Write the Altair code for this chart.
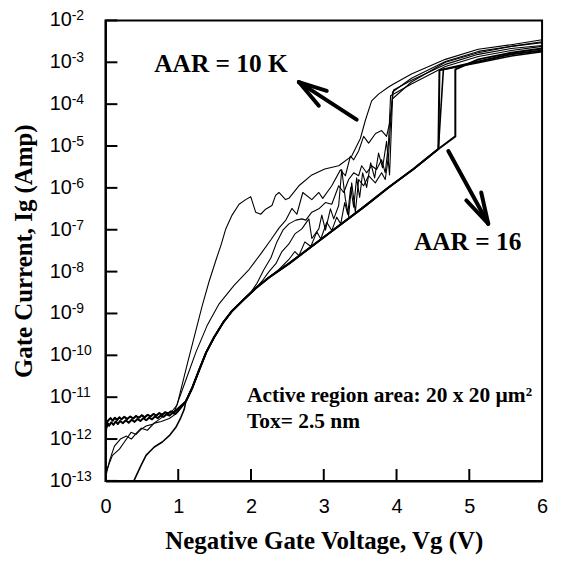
import altair as alt
import pandas as pd

# ---- values (V in volts, log10 of gate current in A) ----
decades = [-13, -12, -11, -10, -9, -8, -7, -6, -5, -4, -3, -2]
x_ticks = [1, 2, 3, 4, 5]
x_labels = [0, 1, 2, 3, 4, 5, 6]

# noisy low-voltage band, curve 1
band1_V = [0, 0.01, 0.03, 0.05, 0.08, 0.11, 0.14, 0.17, 0.20, 0.24, 0.28, 0.32, 0.36, 0.40, 0.44,
           0.48, 0.52, 0.56, 0.60, 0.64, 0.68, 0.72, 0.76, 0.80, 0.84, 0.88, 0.92, 0.96, 1.0]
band1_log = [-12.02, -11.75, -11.62, -11.68, -11.60, -11.66, -11.58, -11.64, -11.57, -11.62, -11.55,
             -11.61, -11.54, -11.59, -11.52, -11.57, -11.50, -11.55, -11.49, -11.53, -11.46, -11.50,
             -11.44, -11.47, -11.41, -11.44, -11.38, -11.40, -11.33]
# noisy low-voltage band, curve 2
band2_V = [0, 0.02, 0.04, 0.07, 0.10, 0.13, 0.16, 0.19, 0.22, 0.26, 0.30, 0.34, 0.38, 0.42, 0.46,
           0.50, 0.54, 0.58, 0.62, 0.66, 0.70, 0.74, 0.78, 0.82, 0.86, 0.90, 0.94]
band2_log = [-11.85, -11.60, -11.55, -11.50, -11.56, -11.49, -11.55, -11.48, -11.53, -11.47, -11.52,
             -11.46, -11.51, -11.45, -11.49, -11.43, -11.48, -11.42, -11.46, -11.40, -11.44, -11.38,
             -11.42, -11.36, -11.39, -11.34, -11.36]
# lowest curve, entering from below 1e-13
low1_V = [0.37, 0.39, 0.489, 0.558, 0.603, 0.671, 0.781, 0.877, 0.968, 1.037, 1.082]
low1_log = [-13.10, -13.0, -12.63, -12.39, -12.31, -12.19, -12.07, -11.92, -11.72, -11.48, -11.29]
# zig-zag low curve
low2_V = [0.014, 0.096, 0.192, 0.260, 0.352, 0.421, 0.489, 0.558, 0.644, 0.740, 0.832, 0.918, 0.986]
low2_log = [-12.75, -12.39, -12.24, -12.07, -11.84, -11.89, -11.77, -11.69, -11.65, -11.53, -11.41,
            -11.33, -11.18]
# another low curve
low3_V = [0.014, 0.055, 0.123, 0.205, 0.288, 0.356, 0.425, 0.493, 0.575, 0.671, 0.767, 0.877, 0.959]
low3_log = [-12.82, -12.52, -12.17, -12.0, -11.93, -12.0, -11.86, -11.74, -11.79, -11.62, -11.58,
            -11.51, -11.41]

# common thick trajectory (AAR = 16 envelope)
env_V = [1.105, 1.192, 1.288, 1.384, 1.493, 1.616, 1.740, 1.904, 2.064, 2.247, 2.521, 2.863, 3.205,
         3.548, 3.890, 4.233, 4.575]
env_log = [-11.10, -10.78, -10.35, -9.93, -9.57, -9.22, -8.94, -8.66, -8.40, -8.14, -7.81, -7.36,
           -6.91, -6.46, -5.99, -5.55, -5.07]

# breakdown tails of the AAR = 16 devices
s16a_V = [4.590, 5.123, 5.575, 6.0]
s16a_log = [-3.19, -2.98, -2.81, -2.72]
s16b_V = [4.808, 4.808, 5.123, 5.575, 6.0]
s16b_log = [-4.77, -3.17, -2.93, -2.77, -2.67]
s16c_V = [4.644, 5.123, 5.575, 6.0]
s16c_log = [-3.17, -3.01, -2.85, -2.75]

# earliest breakdown curve (peak near 2 V)
early_V = [1.037, 1.137, 1.242, 1.329, 1.425, 1.521, 1.589, 1.653, 1.740, 1.836, 1.927, 1.996, 2.064,
           2.133, 2.201, 2.288, 2.338, 2.384, 2.475, 2.521, 2.658, 2.836, 3.014, 3.205, 3.384, 3.503,
           3.571, 3.658, 3.753, 3.890, 3.959, 4.205, 4.671, 5.123, 5.575, 6.0]
early_log = [-10.82, -10.12, -9.41, -8.82, -8.23, -7.71, -7.36, -6.98, -6.65, -6.39, -6.28, -6.21,
             -6.58, -6.63, -6.51, -6.42, -6.18, -6.11, -6.28, -6.25, -5.95, -5.69, -5.55, -5.47,
             -5.24, -4.82, -4.39, -3.92, -3.76, -3.59, -3.52, -3.28, -2.93, -2.69, -2.58, -2.46]

# AAR = 10 K noisy curves
n1_V = [0.959, 1.105, 1.242, 1.397, 1.562, 1.767, 1.973, 2.137, 2.274, 2.384, 2.479, 2.562, 2.630,
        2.712, 2.836, 2.932, 2.986, 3.110, 3.229, 3.297, 3.366, 3.411, 3.479, 3.548, 3.616, 3.712,
        3.795, 3.863, 3.904, 3.959, 4.205, 4.671, 5.123, 5.575, 6.0]
n1_log = [-11.29, -10.59, -9.93, -9.29, -8.77, -8.33, -7.95, -7.57, -7.24, -6.96, -6.77, -6.49, -6.63,
          -6.11, -6.28, -6.11, -6.25, -5.95, -5.57, -5.71, -5.24, -5.33, -5.12, -4.77, -4.93, -4.70,
          -4.63, -4.77, -4.46, -3.66, -3.43, -3.05, -2.81, -2.67, -2.60]
n2_V = [2.0, 2.082, 2.178, 2.274, 2.356, 2.438, 2.521, 2.616, 2.699, 2.753, 2.836, 2.932, 3.023, 3.110,
        3.205, 3.274, 3.342, 3.411, 3.479, 3.521, 3.589, 3.658, 3.726, 3.795, 3.845, 3.890, 3.918,
        4.205, 4.671, 5.123, 5.575, 6.0]
n2_log = [-8.49, -8.28, -7.95, -7.67, -7.29, -7.01, -6.86, -6.77, -6.74, -6.77, -6.58, -6.50, -6.35,
          -6.39, -5.95, -6.11, -5.80, -5.64, -5.71, -5.47, -5.64, -5.47, -5.56, -5.33, -5.64, -4.93,
          -3.80, -3.52, -3.10, -2.86, -2.72, -2.62]
n3_V = [2.151, 2.247, 2.342, 2.425, 2.521, 2.603, 2.699, 2.795, 2.836, 2.932, 2.973, 3.023, 3.092,
        3.137, 3.205, 3.247, 3.297, 3.342, 3.384, 3.434, 3.479, 3.548, 3.616, 3.708, 3.795, 3.845,
        3.890, 3.945, 4.205, 4.671, 5.123, 5.575, 6.0]
n3_log = [-8.23, -8.00, -7.81, -7.52, -7.34, -7.10, -6.98, -6.74, -7.21, -6.98, -6.65, -7.01, -6.50,
          -6.74, -6.42, -5.56, -6.27, -6.68, -5.88, -6.58, -5.80, -5.95, -5.71, -5.88, -5.64, -5.80,
          -5.24, -3.71, -3.38, -2.98, -2.74, -2.62, -2.51]
n4_V = [2.384, 2.521, 2.603, 2.658, 2.740, 2.822, 2.904, 2.959, 3.041, 3.110, 3.178, 3.233, 3.288,
        3.329, 3.370, 3.411, 3.452, 3.493, 3.534, 3.589, 3.644, 3.699, 3.753, 3.808, 3.863, 3.904,
        3.945, 4.205, 4.671, 5.123, 5.575, 6.0]
n4_log = [-7.95, -7.71, -7.52, -7.62, -7.29, -7.40, -7.05, -7.22, -6.82, -7.02, -6.70, -6.86, -6.35,
          -6.63, -5.99, -6.46, -5.76, -6.23, -5.64, -5.99, -5.40, -5.76, -5.17, -5.52, -4.89, -5.69,
          -3.87, -3.47, -3.00, -2.77, -2.62, -2.53]

# annotations (V, current in A)
ann_text = ["AAR = 10 K", "AAR = 16"]
ann_V = [0.671, 4.240]
ann_I = [5.79e-4, 3.33e-8]
note_text = ["Active region area: 20 x 20 \u00b5m\u00b2", "Tox= 2.5 nm"]
note_V = [1.945, 1.945]
note_I = [7.85e-12, 1.82e-12]

# arrows: segments (start V, start I, end V, end I)
arr_V = [3.452, 2.658, 2.658, 4.712, 5.260, 5.260]
arr_I = [4.29e-5, 3.37e-4, 3.37e-4, 7.57e-6, 1.39e-7, 1.39e-7]
arr_V2 = [2.658, 3.041, 2.932, 5.260, 4.959, 5.164]
arr_I2 = [3.37e-4, 2.07e-4, 9.16e-5, 1.39e-7, 5.02e-7, 7.74e-7]


def upto(vs, ls, vmax):
    pairs = [(v, l) for v, l in zip(vs, ls) if v <= vmax]
    return [p[0] for p in pairs], [p[1] for p in pairs]


curves = {}
curves["s16a"] = (band1_V + env_V + s16a_V, band1_log + env_log + s16a_log, 2.0)
curves["s16b"] = (band2_V + env_V + s16b_V, band2_log + env_log + s16b_log, 2.0)
curves["s16c"] = (low1_V + env_V + s16c_V, low1_log + env_log + s16c_log, 1.6)
curves["early"] = (low2_V + early_V, low2_log + early_log, 1.1)
ev, el = upto(env_V, env_log, 2.064)
curves["n3"] = (low3_V + ev + n3_V, low3_log + el + n3_log, 1.1)
curves["n1"] = (band2_V + n1_V, band2_log + n1_log, 1.1)
ev, el = upto(env_V, env_log, 1.904)
curves["n2"] = (band1_V + ev + n2_V, band1_log + el + n2_log, 1.1)
ev, el = upto(env_V, env_log, 2.247)
curves["n4"] = (band2_V + ev + n4_V, band2_log + el + n4_log, 1.1)

rows = []
for name, (vs, ls, w) in curves.items():
    for i, (v, l) in enumerate(zip(vs, ls)):
        rows.append({"curve": name, "order": i, "V": v, "I": 10.0 ** l, "w": w})
df = pd.DataFrame(rows)

W, H = 439, 463
FONT_SANS = "Liberation Sans"
FONT_SERIF = "Liberation Serif"

xscale = alt.Scale(domain=[0, 6], nice=False, zero=False)
yscale = alt.Scale(type="log", domain=[1e-13, 1e-2], nice=False)

xaxis = alt.Axis(values=x_labels, format="d", ticks=False, grid=False, domainWidth=2,
                 domainColor="black", labelFont=FONT_SANS, labelFontSize=20, labelColor="black",
                 labelPadding=16, labelFlush=False, title="Negative Gate Voltage, Vg (V)",
                 titleFont=FONT_SERIF, titleFontSize=25, titleFontWeight="bold",
                 titleColor="black", titlePadding=12)
yaxis = alt.Axis(labels=False, ticks=False, grid=False, domainWidth=2, domainColor="black",
                 title="Gate Current, Ig (Amp)", titleFont=FONT_SERIF, titleFontSize=25,
                 titleFontWeight="bold", titleColor="black", titlePadding=69)

lines = alt.Chart(df).mark_line(color="black", clip=True, strokeJoin="round").encode(
    x=alt.X("V:Q", scale=xscale, axis=xaxis),
    y=alt.Y("I:Q", scale=yscale, axis=yaxis),
    detail="curve:N",
    order="order:Q",
    strokeWidth=alt.StrokeWidth("w:Q", scale=None),
)

tick_df = pd.DataFrame({"I": [10.0 ** d for d in decades],
                        "base": ["10"] * len(decades),
                        "exp": [str(d) for d in decades]})
yticks = alt.Chart(tick_df).mark_rule(color="black", strokeWidth=2).encode(
    y="I:Q", x=alt.value(0), x2=alt.value(12))
xticks = alt.Chart(pd.DataFrame({"V": x_ticks})).mark_rule(color="black", strokeWidth=2).encode(
    x="V:Q", y=alt.value(H), y2=alt.value(H - 12))

ybase = alt.Chart(tick_df).mark_text(align="left", baseline="middle", font=FONT_SANS,
                                     fontSize=20, color="black").encode(
    y="I:Q", x=alt.value(-56), text="base:N")
yexp = alt.Chart(tick_df).mark_text(align="left", baseline="middle", font=FONT_SANS,
                                    fontSize=14, dy=-4, color="black").encode(
    y="I:Q", x=alt.value(-34), text="exp:N")

ann = alt.Chart(pd.DataFrame({"V": ann_V, "I": ann_I, "label": ann_text})).mark_text(
    align="left", baseline="alphabetic", font=FONT_SERIF, fontWeight="bold", fontSize=25.5,
    color="black").encode(x="V:Q", y="I:Q", text="label:N")
notes = alt.Chart(pd.DataFrame({"V": note_V, "I": note_I, "label": note_text})).mark_text(
    align="left", baseline="alphabetic", font=FONT_SERIF, fontWeight="bold", fontSize=21.5,
    color="black").encode(x="V:Q", y="I:Q", text="label:N")

arrows = alt.Chart(pd.DataFrame({"V": arr_V, "I": arr_I, "V2": arr_V2, "I2": arr_I2})).mark_rule(
    color="black", strokeWidth=4, strokeCap="round").encode(
    x="V:Q", y="I:Q", x2="V2:Q", y2="I2:Q")

chart = alt.layer(lines, yticks, xticks, ybase, yexp, ann, notes, arrows).properties(
    width=W, height=H,
    autosize=alt.AutoSizeParams(type="none"),
    padding={"left": 98, "top": 11, "right": 12, "bottom": 74},
    background="white",
).configure_view(stroke="black", strokeWidth=2)

chart.save("out.html", embed_options={"renderer": "svg", "actions": False})
